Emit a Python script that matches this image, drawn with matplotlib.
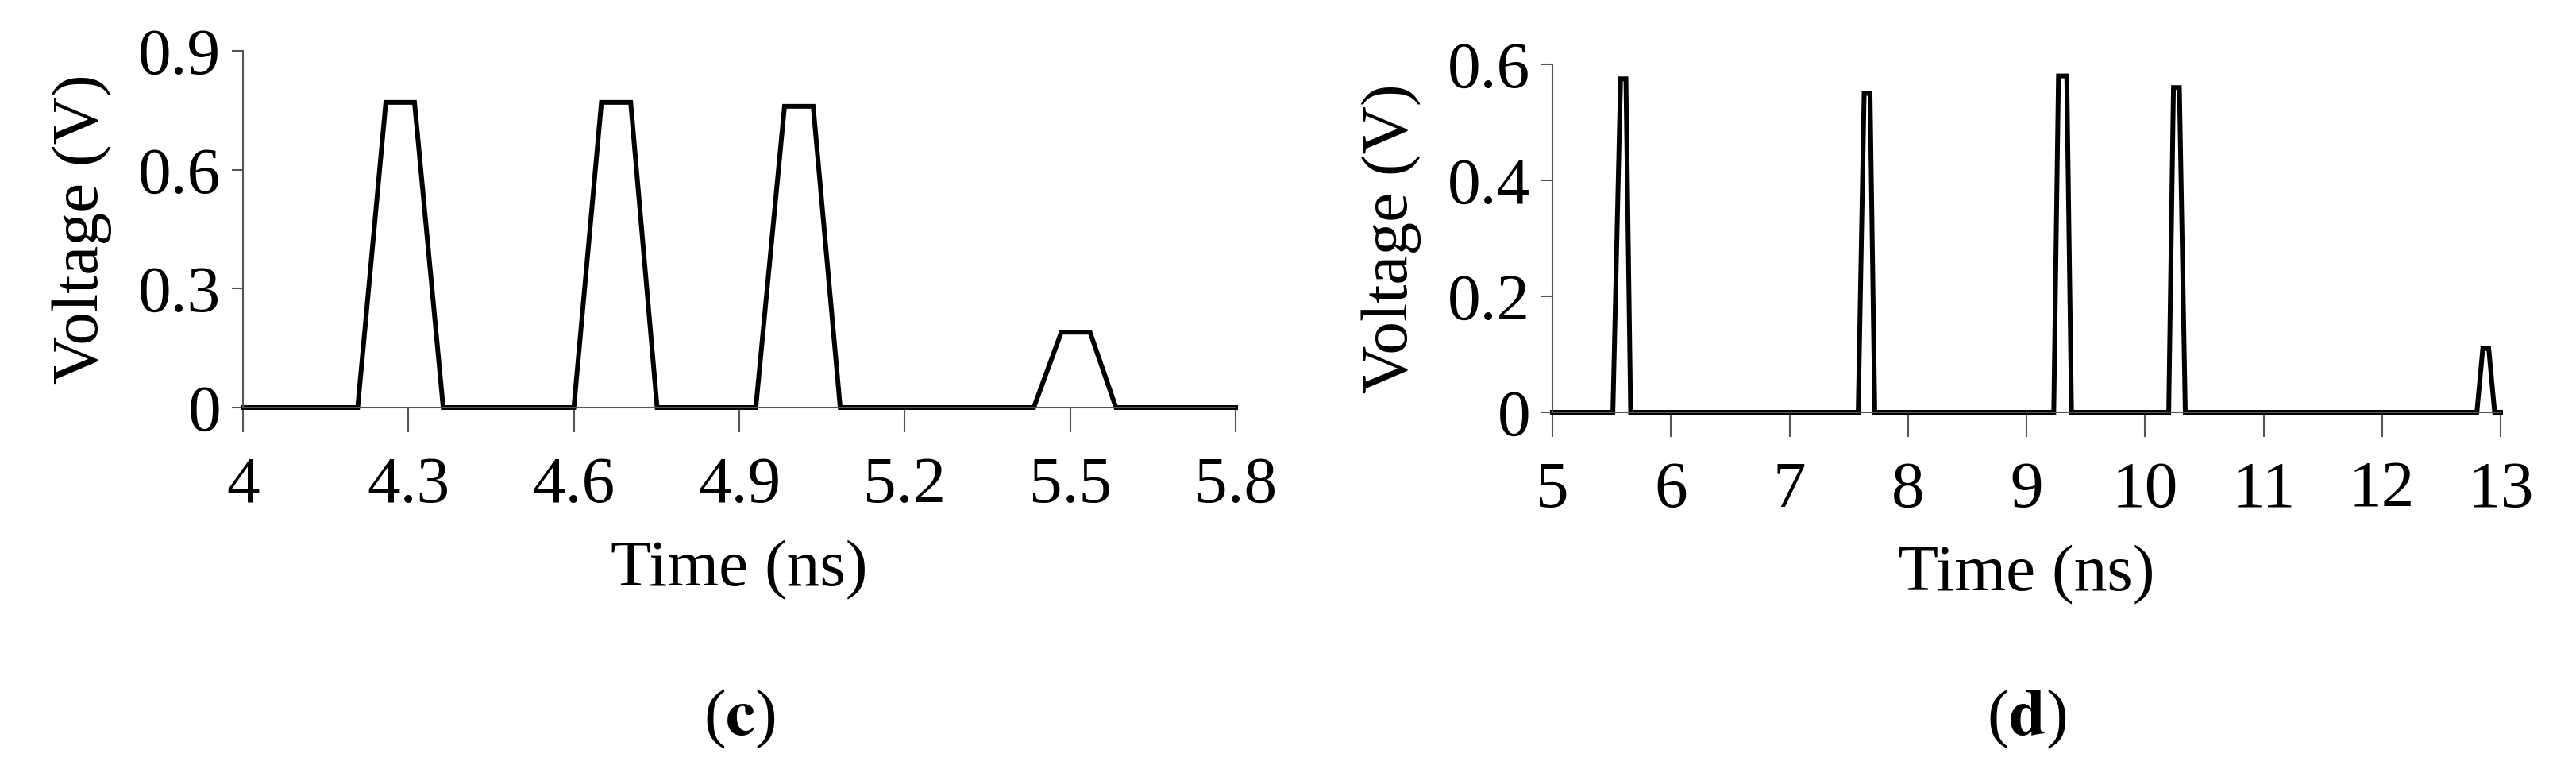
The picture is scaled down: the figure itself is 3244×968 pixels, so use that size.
import matplotlib
matplotlib.use("Agg")
import matplotlib.pyplot as plt

plt.rcParams['font.family'] = ['Liberation Serif', 'DejaVu Serif']
plt.rcParams['mathtext.fontset'] = 'stix'

# Panel (c)
t_c = [4.0, 4.208, 4.259, 4.311, 4.363, 4.600, 4.650, 4.703, 4.751,
       4.930, 4.982, 5.034, 5.083, 5.434, 5.484, 5.536, 5.583, 5.8]
v_c = [0, 0, 0.77, 0.77, 0, 0, 0.77, 0.77, 0,
       0, 0.76, 0.76, 0, 0, 0.19, 0.19, 0, 0]
xticks_c = [4, 4.3, 4.6, 4.9, 5.2, 5.5, 5.8]
xlabels_c = ["4", "4.3", "4.6", "4.9", "5.2", "5.5", "5.8"]
yticks_c = [0, 0.3, 0.6, 0.9]
ylabels_c = ["0", "0.3", "0.6", "0.9"]

# Panel (d)
t_d = [5.0, 5.51, 5.575, 5.62, 5.66, 7.58, 7.63, 7.68, 7.72,
       9.23, 9.27, 9.34, 9.38, 10.20, 10.24, 10.29, 10.34,
       12.80, 12.85, 12.90, 12.95, 13.0]
v_d = [0, 0, 0.575, 0.575, 0, 0, 0.55, 0.55, 0,
       0, 0.58, 0.58, 0, 0, 0.56, 0.56, 0,
       0, 0.11, 0.11, 0, 0]
xticks_d = list(range(5, 14))
xlabels_d = [str(x) for x in xticks_d]
yticks_d = [0, 0.2, 0.4, 0.6]
ylabels_d = ["0", "0.2", "0.4", "0.6"]

fig = plt.figure(figsize=(32.44, 9.68), dpi=100)
W, H = 3244, 968
ax1 = fig.add_axes([306 / W, 1 - 513 / H, (1556 - 306) / W, (513 - 64) / H])
ax2 = fig.add_axes([1955 / W, 1 - 519 / H, (3149 - 1955) / W, (519 - 81) / H])

fs = 60
for ax, t, v, xt, xl, yt, yl, xlim, ylim, lab in [
        (ax1, t_c, v_c, xticks_c, xlabels_c, yticks_c, ylabels_c, (4, 5.8), (0, 0.9), 'c'),
        (ax2, t_d, v_d, xticks_d, xlabels_d, yticks_d, ylabels_d, (5, 13), (0, 0.6), 'd')]:
    ax.plot(t, v, color='black', lw=4.3, clip_on=False, solid_joinstyle='miter')
    ax.set_xlim(*xlim)
    ax.set_ylim(*ylim)
    ax.set_xticks(xt)
    ax.set_xticklabels(xl)
    ax.set_yticks(yt)
    ax.set_yticklabels(yl)
    for s in ['top', 'right']:
        ax.spines[s].set_visible(False)
    for s in ['left', 'bottom']:
        ax.spines[s].set_color('#555555')
        ax.spines[s].set_linewidth(1.5)
    ax.tick_params(axis='x', direction='out', length=22, width=1.5, color='#555555',
                   labelsize=fs, pad=22)
    ax.tick_params(axis='y', direction='out', length=10, width=1.5, color='#555555',
                   labelsize=fs, pad=10)
    ax.set_xlabel('Time (ns)', fontsize=fs, labelpad=22)
    ax.set_ylabel('Voltage (V)', fontsize=fs, labelpad=24)
    ax.patch.set_visible(False)

fig.text(0.5 * (306 + 1556) / W, 1 - 905 / H, r'($\mathbf{c}$)', fontsize=fs,
         ha='center', va='center')
fig.text(0.5 * (1955 + 3149) / W, 1 - 905 / H, r'($\mathbf{d}$)', fontsize=fs,
         ha='center', va='center')

fig.savefig('out.png', dpi=100)
